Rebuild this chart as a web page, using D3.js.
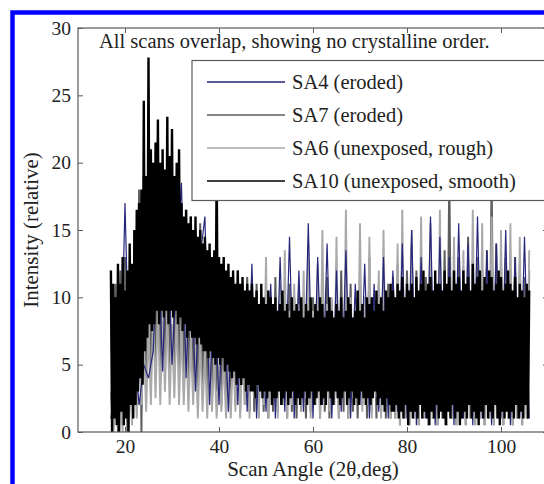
<!DOCTYPE html>
<html>
<head>
<meta charset="utf-8">
<script src="https://cdn.jsdelivr.net/npm/d3@7"></script>
<style>
  body { margin: 0; background: #fff; }
  svg text { font-family: "Liberation Serif", "Times New Roman", serif; fill: #222; }
</style>
</head>
<body>
<script>
// scan grid: 2theta from 17 deg; SA10 every 0.25 deg, SA7/SA6 every 0.5, SA4 every 1
var scanStart = 17;

var seriesNames = ["SA4 (eroded)", "SA7 (eroded)", "SA6 (unexposed, rough)", "SA10 (unexposed, smooth)"];
var seriesColors = ["#26267a", "#5e5e5e", "#a9a9a9", "#000000"];
var seriesSteps = [1, 0.5, 0.5, 0.25];

var xTicks = [20, 40, 60, 80, 100];
var yTicks = [0, 5, 10, 15, 20, 25, 30];

// values (relative intensity)
var sa10 = [
  12, 0, 11, 1, 10, 0.5, 12.5, 0, 11, 1.5, 13, 0.5, 10.5, 1, 12, 0, 14, 2, 12.5, 1,
  15, 2, 16.5, 3, 17, 4, 18, 3.5, 24.6, 6, 19, 7, 27.8, 8, 21, 7.5, 20, 8, 21.5, 9,
  23.2, 8, 20, 9, 21, 8.5, 19.5, 9, 23.4, 8, 20.5, 9, 22.5, 8.5, 19, 9, 20, 8, 21, 8.5,
  17, 7.5, 16, 8, 16.5, 7, 15.5, 7.5, 16, 7, 15, 7, 16, 6.5, 14.5, 7, 15, 6.5, 14, 6,
  14.5, 6, 13.5, 5.5, 14, 6, 13, 5.5, 13.5, 5, 20, 5.5, 13, 5, 12.5, 5.5, 13, 4.5, 12, 5,
  12.5, 4.5, 11.5, 4, 12, 4.5, 11, 3.5, 12, 4, 11, 3.5, 11.5, 4, 10.5, 3, 11, 3.5, 10.5, 3,
  11, 3, 10, 2.5, 10.5, 3.5, 9.5, 3, 11, 2.5, 10, 3, 9.5, 2.5, 10.5, 3, 10, 2, 9.5, 2.5,
  10, 2.5, 9, 3, 9.5, 2, 10.5, 2.5, 9, 3, 9.5, 2, 8.5, 2.5, 10, 3, 9, 2, 9.5, 2.5,
  9, 2, 10, 2.5, 8.5, 3, 9.5, 2, 9, 2.5, 10, 3, 8.5, 2, 9.5, 2.5, 9, 3, 10, 2,
  9.5, 2.5, 8.5, 2, 9, 3, 10, 2.5, 9, 2, 8.5, 3, 9.5, 2.5, 9, 2, 10, 2.5, 8.5, 3,
  9, 2, 10, 2.5, 9.5, 3, 8.5, 2, 9, 2.5, 10.5, 2, 9, 3, 9.5, 2.5, 8.5, 2, 10, 2.5,
  9.5, 2, 10, 2.5, 9, 3, 10.5, 2, 9.5, 2.5, 10, 2, 9, 1.5, 10.5, 2.5, 10, 2, 11, 1.5,
  10.5, 1.5, 10, 2, 11, 1, 10.5, 1.5, 11.5, 1, 10, 2, 11, 0.5, 10.5, 1.5, 11, 1, 10, 1.5,
  11.5, 1, 10.5, 2, 11, 1, 12, 1.5, 10.5, 1, 11, 0.5, 11.5, 1.5, 10.5, 1, 12, 2, 11, 1,
  11, 1.5, 10.5, 1, 12, 0.5, 11, 1.5, 11.5, 1, 10.5, 2, 12, 1, 11, 1.5, 11.5, 0.5, 10.5, 1,
  12, 1.5, 11, 1, 11.5, 2, 10.5, 1, 12.5, 1.5, 11, 1, 11.5, 0.5, 12, 1.5, 10.5, 1, 11.5, 2,
  11, 1, 12, 1.5, 11.5, 1, 10.5, 2, 11, 1, 12, 0.5, 11.5, 1.5, 10.5, 1, 11, 1.5, 12, 1,
  11, 1.5, 10.5, 1, 11.5, 2, 10, 1, 11, 1.5, 10.5, 1, 10, 2, 11, 1, 10.5
];

var sa7 = [
  10, 0, 11, 0, 12, 0.5, 13, 0, 12, 1,
  15, 2, 18, 0, 19, 4, 21, 5, 20, 5,
  21, 4, 20, 5, 19, 4, 20, 5, 18, 4,
  17, 4, 16.5, 3.5, 16, 4, 15, 3, 15.5, 3,
  14, 3, 13.5, 2.5, 13, 3, 12.5, 2, 12, 2,
  12, 2, 11.5, 2, 12, 1.5, 11, 2, 11.5, 1.5,
  10.5, 1.5, 11, 2, 10, 1.5, 10.5, 1, 10, 1.5,
  11.5, 1.5, 10, 2, 9.5, 1, 11, 1.5, 10, 1,
  10.5, 1.5, 9.5, 1, 11, 1.5, 10, 2, 9.5, 1,
  10, 1.5, 11.5, 1, 9.5, 2, 10.5, 1, 12, 1.5,
  10.5, 1, 11, 1.5, 10, 1, 11.5, 2, 10, 1,
  13, 1.5, 10, 1, 11, 1.5, 10.5, 1, 11, 1,
  11.5, 1, 12.5, 0.5, 11, 1, 12, 0.5, 14, 1,
  12, 0.5, 13, 1, 11.5, 0.5, 12.5, 1, 11, 0.5,
  12.5, 1, 13.5, 0.5, 19, 1, 11.5, 0.5, 13, 1,
  12, 0.5, 14.5, 1, 12.5, 0.5, 13, 1, 12, 0.5,
  13.5, 1, 19, 0.5, 14, 1, 12.5, 0.5, 13, 1,
  12, 0.5, 13, 1, 12.5, 0.5, 11.5, 1, 12
];

var sa6 = [
  3, 0, 2, 0.5, 4, 0, 5, 1, 4, 0.5,
  6, 1, 5.5, 2, 7, 1.5, 8, 2, 9, 2.5,
  9.5, 2, 8.5, 3, 9, 2, 8, 2.5, 9, 2,
  8, 2, 7.5, 1.5, 7, 2, 6.5, 1, 7, 1.5,
  6, 1, 6.5, 1.5, 5.5, 1, 5, 1.5, 5.5, 1,
  5, 1, 6, 1.5, 8, 1, 9, 2, 10, 1,
  11, 2.5, 9, 1, 10, 2, 13, 1, 9.5, 2.5,
  10, 1, 11, 2.5, 13.5, 1, 9, 2, 11, 3,
  9.5, 1.5, 12, 2.5, 14, 1, 9, 3, 12.5, 1,
  15, 2.5, 9.5, 1.5, 10, 3, 14.5, 1, 9, 2.5,
  16.5, 1, 10, 2.5, 9.5, 3, 15.5, 1.5, 10, 2,
  14.5, 1, 9, 2.5, 12, 1, 15, 3, 9.5, 1,
  10, 1, 14, 0.5, 16.5, 1, 10, 0.5, 15, 1,
  9.5, 0.5, 16, 1, 10, 0.5, 15.5, 1, 11, 0.5,
  16.5, 1, 10, 0.5, 12, 1, 14.5, 0.5, 10, 1,
  13.5, 0.5, 9.5, 1, 16.5, 0.5, 10, 1, 15.5, 0.5,
  10, 1, 16, 0.5, 9.5, 1, 15, 0.5, 10.5, 1,
  15.5, 0.5, 10, 1, 14.5, 0.5, 9.5, 1, 13.5
];

var sa4 = [
  1, 4, 2, 17, 3, 6, 2, 5, 4, 6,
  15, 4.5, 16, 5, 12, 18.5, 4, 14, 3, 13,
  16, 2, 12, 2, 11, 1.5, 12, 2, 11, 1.5,
  12.5, 1, 10, 1.5, 11, 1, 13, 1.5, 14.5, 1,
  12, 1.5, 15.5, 1, 13, 2, 14, 1, 12, 1.5,
  13.5, 1, 11, 2, 12.5, 1, 11, 1.5, 13, 1,
  12, 1.5, 14, 1, 15, 0.5, 13, 1, 16, 0.5,
  14.5, 1, 13, 0.5, 15.5, 1, 14, 0.5, 16, 1,
  13.5, 0.5, 14, 1, 15, 0.5, 13, 1, 14.5, 1
];

var seriesValues = [sa4, sa7, sa6, sa10];
var seriesWidths = [1.2, 2, 1.9, 2.4];
// drawing order: SA7, SA6, SA4, SA10 on top
var drawOrder = [1, 2, 0, 3];

var W = 544, H = 484;
var plotL = 78, plotR = 548, plotT = 28, plotB = 432;

var svg = d3.select("body").append("svg")
  .attr("width", W)
  .attr("height", H);

var x = d3.scaleLinear().domain([10, 110]).range([plotL, plotR]);
var y = d3.scaleLinear().domain([0, 30]).range([plotB, plotT]);

svg.append("clipPath").attr("id", "plotclip")
  .append("rect")
  .attr("x", plotL).attr("y", plotT)
  .attr("width", plotR - plotL).attr("height", plotB - plotT);

var line = d3.line()
  .x(function(d){ return x(d[0]); })
  .y(function(d){ return y(d[1]); });

var dataG = svg.append("g").attr("clip-path", "url(#plotclip)");
drawOrder.forEach(function(i){
  var step = seriesSteps[i];
  var pts = seriesValues[i].map(function(v, k){ return [scanStart + k * step, v]; });
  dataG.append("path")
    .attr("d", line(pts))
    .attr("fill", "none")
    .attr("stroke", seriesColors[i])
    .attr("stroke-width", seriesWidths[i])
    .attr("stroke-linejoin", "bevel");
});

// axes (ticks inward, box all round)
var axisColor = "#5a5a5a";
var tickLen = 5;

svg.append("g")
  .attr("transform", "translate(0," + plotB + ")")
  .call(d3.axisBottom(x).tickValues(xTicks).tickSize(-tickLen).tickPadding(7))
  .call(function(g){
    g.select(".domain").remove();
    g.selectAll("line").attr("stroke", axisColor);
    g.selectAll("text").attr("font-size", 19.5).attr("fill", "#222")
      .attr("font-family", "Liberation Serif, serif");
  });

svg.append("g")
  .attr("transform", "translate(0," + plotT + ")")
  .call(d3.axisTop(x).tickValues(xTicks).tickSize(-tickLen).tickFormat(""))
  .call(function(g){
    g.select(".domain").remove();
    g.selectAll("line").attr("stroke", axisColor);
  });

svg.append("g")
  .attr("transform", "translate(" + plotL + ",0)")
  .call(d3.axisLeft(y).tickValues(yTicks).tickSize(-tickLen).tickPadding(7))
  .call(function(g){
    g.select(".domain").remove();
    g.selectAll("line").attr("stroke", axisColor);
    g.selectAll("text").attr("font-size", 19.5).attr("fill", "#222")
      .attr("font-family", "Liberation Serif, serif");
  });

svg.append("g")
  .attr("transform", "translate(" + plotR + ",0)")
  .call(d3.axisRight(y).tickValues(yTicks).tickSize(-tickLen).tickFormat(""))
  .call(function(g){
    g.select(".domain").remove();
    g.selectAll("line").attr("stroke", axisColor);
  });

svg.append("rect")
  .attr("x", plotL).attr("y", plotT)
  .attr("width", plotR - plotL).attr("height", plotB - plotT)
  .attr("fill", "none")
  .attr("stroke", axisColor)
  .attr("stroke-width", 1.2);

// annotation
svg.append("text")
  .attr("x", 99).attr("y", 48)
  .attr("font-size", 20.5)
  .text("All scans overlap, showing no crystalline order.");

// legend
var legend = svg.append("g");
legend.append("rect")
  .attr("x", 192).attr("y", 60.5)
  .attr("width", 400).attr("height", 140)
  .attr("fill", "#fff")
  .attr("stroke", axisColor)
  .attr("stroke-width", 1.2);

var legendY = d3.scalePoint().domain(seriesNames).range([82, 181]);
var items = legend.selectAll("g.item")
  .data(d3.range(seriesNames.length))
  .enter()
  .append("g")
  .attr("class", "item")
  .attr("transform", function(i){ return "translate(0," + legendY(seriesNames[i]) + ")"; });

items.append("line")
  .attr("x1", 207).attr("x2", 285)
  .attr("stroke", function(i){ return seriesColors[i]; })
  .attr("stroke-width", 1.4);

items.append("text")
  .attr("x", 292).attr("dy", "0.35em")
  .attr("font-size", 20.5)
  .text(function(i){ return seriesNames[i]; });

// axis titles
svg.append("text")
  .attr("x", (plotL + plotR) / 2).attr("y", 476)
  .attr("text-anchor", "middle")
  .attr("font-size", 21)
  .text("Scan Angle (2\u03b8,deg)");

svg.append("text")
  .attr("transform", "translate(38," + ((plotT + plotB) / 2) + ") rotate(-90)")
  .attr("text-anchor", "middle")
  .attr("font-size", 21)
  .text("Intensity (relative)");

// blue frame of the figure
svg.append("rect")
  .attr("x", 12.5).attr("y", 12.5)
  .attr("width", 700).attr("height", 700)
  .attr("fill", "none")
  .attr("stroke", "#0000ff")
  .attr("stroke-width", 4.5);
</script>
</body>
</html>
